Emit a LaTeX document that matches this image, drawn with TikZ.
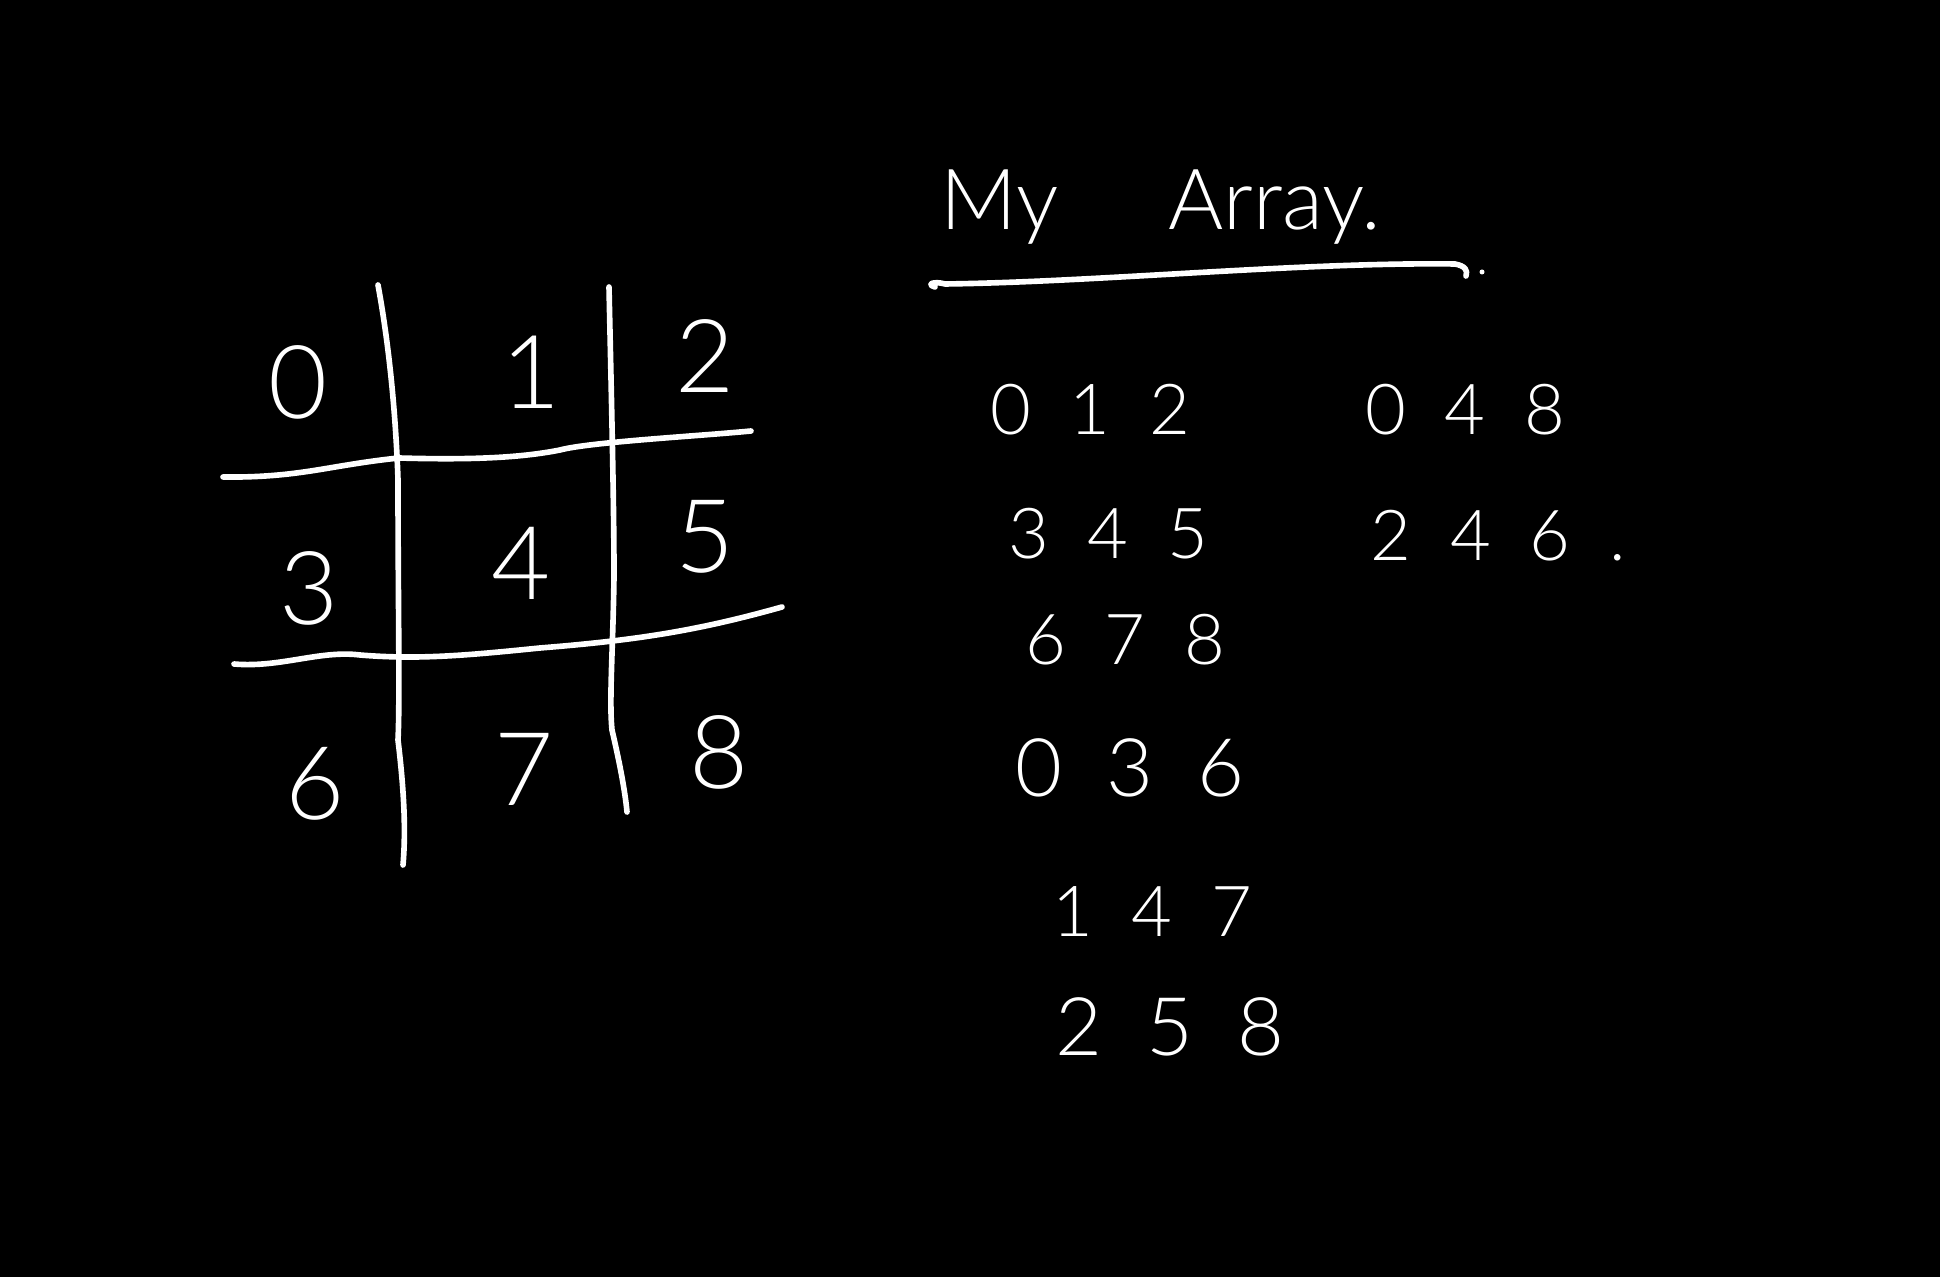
\documentclass[tikz,border=0pt]{standalone}
\usepackage{fontspec}
\setmainfont{Lato}[UprightFont=* Light]
\newfontfamily\rowfont{Lato}[UprightFont=* Light, LetterSpace=55]
\usetikzlibrary{positioning}

\begin{document}
\begin{tikzpicture}[x=0.01cm, y=-0.01cm,
    pen/.style={draw=white, line width=1.6pt, line cap=round, line join=round},
    cell/.style={text=white, inner sep=0pt,
                 font=\fontsize{29}{34}\selectfont},
    row/.style={text=white, inner sep=0pt,
                font=\rowfont\fontsize{20}{24}\selectfont},
    bigrow/.style={row, font=\rowfont\fontsize{23}{27}\selectfont},
    heading/.style={text=white, inner sep=0pt, anchor=base west,
                    font=\fontsize{24}{29}\selectfont}
  ]
  \fill[black] (0,0) rectangle (1940,1277);
  \useasboundingbox (0,0) rectangle (1940,1277);

  % the 3x3 grid
  \draw[pen] (378,285) .. controls (390,350) and (396,420) .. (398,480)
             .. controls (398,600) and (400,700) .. (398,740)
             .. controls (404,790) and (406,830) .. (403,865);
  \draw[pen] (609,287) .. controls (611,380) and (614,500) .. (614,576)
             .. controls (613,650) and (609,700) .. (612,730)
             .. controls (619,760) and (625,790) .. (627,812);
  \draw[pen] (223,477) .. controls (300,478) and (330,465) .. (399,458)
             .. controls (470,460) and (520,458) .. (560,450)
             .. controls (590,442) and (700,436) .. (751,431);
  \draw[pen] (234,664) .. controls (280,668) and (320,650) .. (360,655)
             .. controls (420,660) and (470,655) .. (540,648)
             .. controls (640,640) and (700,630) .. (782,607);

  \node[cell] (c0) at (298,382) {0};
  \node[cell] (c1) at (531,372) {1};
  \node[cell] (c2) at (705,356) {2};
  \node[cell] (c3) at (309,588) {3};
  \node[cell] (c4) at (521,563) {4};
  \node[cell] (c5) at (705,537) {5};
  \node[cell] (c6) at (315,784) {6};
  \node[cell] (c7) at (524,769) {7};
  \node[cell] (c8) at (719,752) {8};

  % heading
  \node[heading] (title) at (940,230) {My\hspace{1.3em}Array.};
  \draw[pen] (935,287) .. controls (925,284) and (935,281) .. (945,284)
             .. controls (1100,282) and (1300,262) .. (1455,264)
             .. controls (1465,266) and (1468,270) .. (1466,276);
  \fill[white] (1482,272) circle (2.5);

  % the lines
  \node[row] (r012) at (1090,410) {012};
  \node[row] (r048) at (1465,410) {048};
  \node[row] (r345) at (1108,534) {345};
  \node[row] (r246) at (1498,536) {246.};
  \node[row] (r678) at (1125,640) {678};
  \node[bigrow] (r036) at (1130,768) {036};
  \node[row] (r147) at (1152,912) {147};
  \node[bigrow] (r258) at (1170,1027) {258};
\end{tikzpicture}
\end{document}
